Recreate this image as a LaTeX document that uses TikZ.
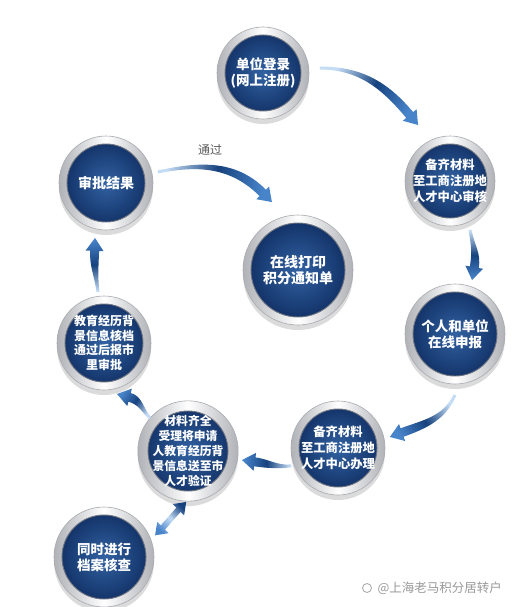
\documentclass[tikz,border=0pt]{standalone}
\usepackage{fontspec}
\setmainfont{Noto Sans CJK SC}
\usetikzlibrary{calc,shadows}
\definecolor{ringside}{RGB}{176,178,183}
\definecolor{ringedge}{RGB}{168,170,175}
\definecolor{discin}{RGB}{50,98,162}
\definecolor{discout}{RGB}{14,44,96}
\definecolor{discedge}{RGB}{110,116,128}
\definecolor{arrlight}{RGB}{196,220,244}
\definecolor{arrdark}{RGB}{22,66,126}
\definecolor{arrmid}{RGB}{72,132,202}

\tikzset{
  bub/.style={circle, inner sep=0pt, minimum size={2*#1*1pt},
    draw=ringedge, line width=0.6pt,
    left color=ringside, right color=ringside, middle color=white,
    drop shadow={shadow xshift=0pt, shadow yshift=-5pt, opacity=0.28},
    path picture={
      \shade[inner color=discin, outer color=discout, draw=discedge, line width=0.9pt]
        (path picture bounding box.center) circle[radius={(#1-8)*1pt}];
    },
    text=white, align=center},
  fs/.style={font=\bfseries\fontsize{#1}{16}\selectfont},
  arrowshade/.style={top color=arrlight, bottom color=arrmid, middle color=arrdark},
  dblshade/.style={top color=arrdark, bottom color=arrmid, middle color=arrlight},
  passlabel/.style={text=black!65, font=\fontsize{12}{14}\selectfont},
  wmtext/.style={text=black!40, font=\fontsize{12.5}{14}\selectfont}
}

% tapered curved arrow: #1 tail, #2 tail direction, #3 tip, #4 tip direction, #5 shading angle
\newcommand\taperarrow[5]{%
  \pgfmathsetmacro\taL{#2+90}\pgfmathsetmacro\taR{#2-90}%
  \pgfmathsetmacro\tbL{#4+90}\pgfmathsetmacro\tbR{#4-90}\pgfmathsetmacro\tbB{#4+180}%
  \coordinate (ta-t) at #1;
  \coordinate (ta-p) at #3;
  \coordinate (ta-h) at ($(ta-p)+(\tbB:13)$);
  \shade[arrowshade, shading angle=#5]
    ($(ta-t)+(\taL:1.5)$) to[out=#2, in=\tbB] ($(ta-h)+(\tbL:4.5)$)
    -- ($(ta-h)+(\tbL:9)$) -- (ta-p) -- ($(ta-h)+(\tbR:9)$)
    -- ($(ta-h)+(\tbR:4.5)$) to[out=\tbB, in=#2] ($(ta-t)+(\taR:1.5)$) -- cycle;
}

\begin{document}
\begin{tikzpicture}[x=1pt,y=1pt]
\fill[white] (0,0) rectangle (525,-607);
\useasboundingbox (0,0) rectangle (525,-607);

\node[bub=46, fs=13.5] (c1) at (263,-73) {单位登录\\(网上注册)};
\node[bub=45, fs=12.3] (c2) at (450,-181) {备齐材料\\至工商注册地\\人才中心审核};
\node[bub=47, fs=14] (c3) at (106,-183) {审批结果};
\node[bub=55, fs=14] (c4) at (298,-270) {在线打印\\积分通知单};
\node[bub=50, fs=13.5] (c5) at (455,-334) {个人和单位\\在线申报};
\node[bub=47, font=\bfseries\fontsize{12}{14.5}\selectfont] (c6) at (104,-343) {教育经历背\\景信息核档\\通过后报市\\里审批};
\node[bub=47, fs=12.3] (c7) at (338,-448) {备齐材料\\至工商注册地\\人才中心办理};
\node[bub=48, font=\bfseries\fontsize{11.8}{15}\selectfont] (c8) at (188,-451) {材料齐全\\受理将申请\\人教育经历背\\景信息送至市\\人才验证};
\node[bub=50, fs=13.5] (c9) at (104,-557) {同时进行\\档案核查};

% flow arrows
\taperarrow{($(c1)+(5:57)$)}{0}{($(c2)+(119.7:64.5)$)}{-50}{59.8}
\taperarrow{($(c2)+(-67.8:53)$)}{-80}{($(c5)+(72.5:56.6)$)}{-100}{2.3}
\taperarrow{($(c5)+(-90:61)$)}{-115}{($(c7)+(12:53)$)}{-160}{302.9}
\taperarrow{($(c7)+(201:50)$)}{185}{($(c8)+(-9.5:54.7)$)}{172}{265.4}
\taperarrow{($(c8)+(139:50)$)}{135}{($(c6)+(-75.7:52.6)$)}{165}{232.9}
\taperarrow{($(c6)+(96.7:51.4)$)}{97}{($(c3)+(-101.3:56)$)}{88}{183}
\taperarrow{($(c3)+(12:53)$)}{12}{($(c4)+(111:72.8)$)}{-45}{75.3}
\node[passlabel] (pass) at (210,-150) {通过};

% double arrow between c9 and c8
\coordinate (da) at ($(c9)+(23:55.5)$);
\coordinate (db) at ($(c8)+(-92:51)$);
\coordinate (dha) at ($(da)+(45:11)$);
\coordinate (dhb) at ($(db)+(225:11)$);
\shade[dblshade, shading angle=-45]
  (da) -- ($(dha)+(135:8)$) -- ($(dha)+(135:3)$) -- ($(dhb)+(135:3)$) -- ($(dhb)+(135:8)$)
  -- (db) -- ($(dhb)+(-45:8)$) -- ($(dhb)+(-45:3)$) -- ($(dha)+(-45:3)$) -- ($(dha)+(-45:8)$) -- cycle;

% watermark
\node[draw=black!35, line width=0.8pt, circle, inner sep=0pt, minimum size=9pt] (wmicon) at (367,-588) {};
\node[wmtext, anchor=west] (wm) at (374,-588) {@上海老马积分居转户};
\end{tikzpicture}
\end{document}
